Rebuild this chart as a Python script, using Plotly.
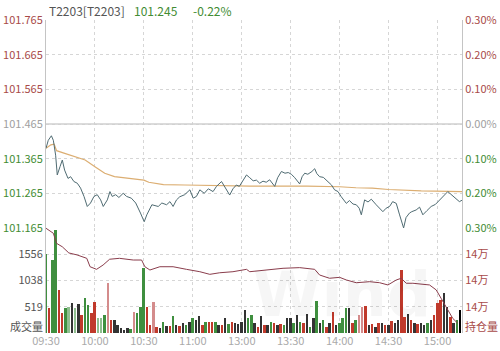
import plotly.graph_objects as go

FONT = "Noto Sans CJK SC, Noto Sans, sans-serif"

prev_close = 101.465
last_price = 101.245
last_change = "-0.22%"

# minute offsets from 09:30 (trading minutes, lunch break removed)
price_min = [0, 1.4, 3.3, 4.5, 5.9, 6.9, 8.6, 10, 11.4, 13.5, 15.1, 17.1, 19.2, 21.2, 23.3, 25.3,
             27.3, 29.4, 31.4, 33.5, 35.1, 37.6, 39.2, 40.6, 42.7, 44.7, 47.3, 49.4, 52.3, 55,
             57.9, 60.2, 61.8, 64.9, 68.8, 71, 73.9, 76, 77.9, 80, 82, 85, 88.2, 90.2, 92.2,
             94.3, 97, 99.5, 102.4, 104.5, 107.6, 110, 112.6, 114.6, 116.7, 118.5, 120.8,
             122.9, 124.9, 127, 129, 131, 133, 135, 137.1, 140.2, 142, 144.3, 146.5, 148.5,
             150.4, 152.5, 155.5, 157, 158.6, 160.5, 163, 164.7, 166, 167.7, 170, 172.8, 175,
             176.9, 179, 181, 184.1, 186, 188.2, 190.2, 192, 193.3, 195.3, 197.4, 199.4, 202.4,
             204.5, 206.5, 208.5, 210.6, 212.5, 214.7, 216.6, 219.2, 220.7, 222.8, 224.2,
             226.9, 229, 231, 233.5, 236.1, 238.7, 241.2, 243.8, 246.3, 248, 249.3, 251.4,
             253.4, 255]
price_val = [101.395, 101.418, 101.431, 101.418, 101.375, 101.318, 101.342, 101.361, 101.332,
             101.308, 101.313, 101.299, 101.294, 101.280, 101.256, 101.227, 101.237, 101.256,
             101.261, 101.246, 101.227, 101.246, 101.270, 101.256, 101.261, 101.253, 101.265,
             101.256, 101.251, 101.237, 101.208, 101.183, 101.203, 101.232, 101.227, 101.237,
             101.232, 101.241, 101.227, 101.246, 101.255, 101.261, 101.275, 101.251, 101.256,
             101.275, 101.265, 101.278, 101.270, 101.285, 101.299, 101.280, 101.260, 101.278,
             101.289, 101.285, 101.304, 101.318, 101.310, 101.301, 101.303, 101.294, 101.300,
             101.297, 101.304, 101.285, 101.310, 101.328, 101.323, 101.325, 101.320, 101.310,
             101.292, 101.313, 101.323, 101.320, 101.328, 101.336, 101.322, 101.313, 101.311,
             101.300, 101.289, 101.275, 101.270, 101.255, 101.236, 101.244, 101.234, 101.232,
             101.222, 101.203, 101.246, 101.240, 101.248, 101.232, 101.222, 101.212, 101.222,
             101.227, 101.241, 101.236, 101.205, 101.165, 101.195, 101.208, 101.212, 101.217,
             101.225, 101.203, 101.215, 101.227, 101.233, 101.246, 101.258, 101.270, 101.263,
             101.258, 101.250, 101.241, 101.245]

avg_min = [0, 3, 5, 6.5, 11, 17, 24, 30, 36, 42, 50, 56, 60, 63, 66, 72, 85, 100, 125, 160,
           175, 180, 190, 200, 210, 230, 255]
avg_val = [101.395, 101.405, 101.407, 101.388, 101.381, 101.371, 101.361, 101.342, 101.323,
           101.313, 101.308, 101.306, 101.303, 101.297, 101.294, 101.290, 101.289, 101.288,
           101.286, 101.286, 101.285, 101.284, 101.281, 101.280, 101.276, 101.272, 101.270]

oi_min = [0, 4.5, 6.5, 10, 14, 19, 25, 27, 31, 35, 39, 45, 53.5, 58.6, 60.6, 63.7, 69.8, 77.9,
          86.1, 94.3, 100.4, 106.5, 114.6, 122.9, 124.9, 135, 145.3, 155.5, 164.7, 167.7,
          173.8, 180, 184.1, 190.2, 198.4, 204.5, 209.6, 214.7, 217.8, 220.8, 224.9, 235.1,
          239.2, 242.2, 245.3, 249.3, 252.4]
oi_val = [147980, 147600, 146830, 146570, 146100, 145950, 145690, 145050, 144850, 145180,
          145620, 145690, 145560, 145560, 145050, 144800, 145050, 145050, 144850, 144670,
          144470, 144590, 144670, 144850, 144670, 144800, 144930, 144980, 144850, 144420,
          144170, 144240, 144040, 143830, 143910, 143830, 143660, 144040, 144170, 143790,
          143790, 143660, 143280, 142640, 142000, 141120, 140740]

vol_min = list(range(0, 256, 2))
vol_val = [1570, 490, 1440, 2030, 850, 400, 490, 520, 590, 490, 575, 355, 700, 555, 395, 605,
           300, 300, 355, 980, 255, 255, 160, 95, 60, 100, 80, 420, 395, 520, 1280, 520, 160,
           605, 125, 100, 225, 145, 145, 340, 160, 145, 200, 158, 223, 290, 255, 342, 158, 223,
           223, 210, 223, 158, 158, 290, 180, 223, 200, 170, 223, 455, 290, 356, 200, 125, 342,
           158, 158, 223, 200, 158, 180, 158, 290, 295, 200, 356, 223, 200, 369, 125, 290, 640,
           200, 250, 125, 200, 420, 150, 200, 300, 490, 490, 200, 255, 356, 520, 535, 150, 180,
           125, 200, 200, 150, 150, 230, 200, 250, 1245, 310, 370, 250, 200, 180, 200, 150, 200,
           250, 356, 585, 650, 785, 520, 310, 200, 250, 455]
vol_dir = list("GRGGRRGLDLDRGGRRLLGPRDDDDDGPGGGRRPRDGDRGDRDGDGDDRGRRGDRDGRDDDDGGDRDRDGRDRGDDGDGRDGDGDGRDRDGGGDRGPPRDRDRDRDRDDRRDRDRDDGDRRRDDRDG")

time_vals = [0, 30, 60, 90, 120, 150, 180, 210, 240]
time_text = ["09:30", "10:00", "10:30", "11:00", "13:00", "13:30", "14:00", "14:30", "15:00"]

price_ticks = [101.165, 101.265, 101.365, 101.465, 101.565, 101.665, 101.765]
vol_ticks = [519, 1038, 1556]
oi_ticks = [142000, 144000, 146000]

RED_T = "#a84a48"
GRN_T = "#428c33"
GRY_T = "#a0a0a0"

def colored(t, c):
    return f"<span style='color:{c}'>{t}</span>"

price_text = []
pct_text = []
for p in price_ticks:
    c = RED_T if p > prev_close + 1e-9 else (GRN_T if p < prev_close - 1e-9 else GRY_T)
    price_text.append(colored(f"{p:.3f}", c))
    pct_text.append(colored(f"{abs(p / prev_close - 1) * 100:.2f}%", c))

dir_color = {"R": "#c0392b", "G": "#3f8f3f", "P": "#d48c8c", "L": "#8fbf8f", "D": "#333333"}
bar_colors = [dir_color[d] for d in vol_dir[:len(vol_val)]]

fig = go.Figure()
fig.add_trace(go.Bar(x=vol_min, y=vol_val, marker_color=bar_colors, marker_line_width=0,
                     width=1.2, xaxis="x2", yaxis="y2", showlegend=False))
fig.add_trace(go.Scatter(x=oi_min, y=oi_val, mode="lines", line=dict(color="#8a3d4c", width=1),
                         xaxis="x2", yaxis="y4", showlegend=False))
fig.add_trace(go.Scatter(x=avg_min, y=avg_val, mode="lines", line=dict(color="#dcae72", width=1.2),
                         xaxis="x", yaxis="y", showlegend=False))
fig.add_trace(go.Scatter(x=price_min, y=price_val, mode="lines", line=dict(color="#4f6b72", width=1),
                         xaxis="x", yaxis="y", showlegend=False))
fig.add_trace(go.Scatter(x=[None], y=[None], xaxis="x", yaxis="y3", showlegend=False))

split = 105 / 313
grid = dict(showgrid=True, gridcolor="#d6d6d6", griddash="dot", gridwidth=1, zeroline=False,
            automargin=False)

fig.update_layout(
    width=500, height=351, margin=dict(l=46, r=38, t=20, b=18),
    paper_bgcolor="white", plot_bgcolor="white", bargap=0,
    font=dict(family=FONT, size=11, color="#555"),
    xaxis=dict(domain=[0, 1], range=[0, 255], anchor="y", tickvals=time_vals,
               showticklabels=False, ticks="", **grid),
    xaxis2=dict(domain=[0, 1], range=[0, 255], anchor="y2", tickvals=time_vals,
                ticktext=time_text, ticks="", tickfont=dict(color="#aaaaaa", size=11),
                **grid),
    yaxis=dict(domain=[split, 1], range=[101.1649, 101.7651], tickvals=price_ticks,
               ticktext=price_text, ticks="", showline=True, linecolor="#c4c4c4",
               tickfont=dict(size=11), **grid),
    yaxis3=dict(overlaying="y", side="right", range=[101.1649, 101.7651], tickvals=price_ticks,
                ticktext=pct_text, ticks="", showline=True, linecolor="#c4c4c4",
                showgrid=False, zeroline=False, automargin=False, tickfont=dict(size=11)),
    yaxis2=dict(domain=[0, split], range=[0, 2075], tickvals=vol_ticks,
                ticktext=[str(v) for v in vol_ticks], ticks="", showline=True,
                linecolor="#c4c4c4", tickfont=dict(size=11, color="#555"), **grid),
    yaxis4=dict(overlaying="y2", side="right", range=[140000, 148000], tickvals=oi_ticks,
                ticktext=[colored(f"{v // 10000}万", RED_T) for v in oi_ticks], ticks="",
                showline=True, linecolor="#c4c4c4", showgrid=False, zeroline=False,
                automargin=False, tickfont=dict(size=11)),
)

# solid previous-close line
fig.add_shape(type="line", xref="x domain", yref="y", x0=0, x1=1, y0=prev_close, y1=prev_close,
              line=dict(color="#cfcfcf", width=1.5))

# watermark
fig.add_annotation(xref="paper", yref="paper", x=0.93, y=0.0, xanchor="right", yanchor="bottom",
                   text="<b>Wind</b>", showarrow=False,
                   font=dict(family="DejaVu Sans", size=62, color="rgba(0,0,0,0.035)"))

fig.add_annotation(xref="paper", yref="paper", x=0.002, y=1 + 10 / 313, xanchor="left",
                   yanchor="middle", showarrow=False, text="T2203[T2203]",
                   font=dict(size=12, color="#555"))
fig.add_annotation(xref="paper", yref="paper", x=(132 - 46) / 416, y=1 + 10 / 313,
                   xanchor="left", yanchor="middle", showarrow=False, text=f"{last_price:.3f}",
                   font=dict(size=12, color=GRN_T))
fig.add_annotation(xref="paper", yref="paper", x=(191 - 46) / 416, y=1 + 10 / 313,
                   xanchor="left", yanchor="middle", showarrow=False, text=last_change,
                   font=dict(size=12, color=GRN_T))
fig.add_annotation(xref="paper", yref="paper", x=0, y=7 / 313, xanchor="right",
                   yanchor="middle", xshift=-1, showarrow=False, text="成交量",
                   font=dict(size=11, color="#555"))
fig.add_annotation(xref="paper", yref="paper", x=1, y=7 / 313, xanchor="left",
                   yanchor="middle", xshift=1, showarrow=False, text="持仓量",
                   font=dict(size=11, color=RED_T))

fig.write_html("out.html")
